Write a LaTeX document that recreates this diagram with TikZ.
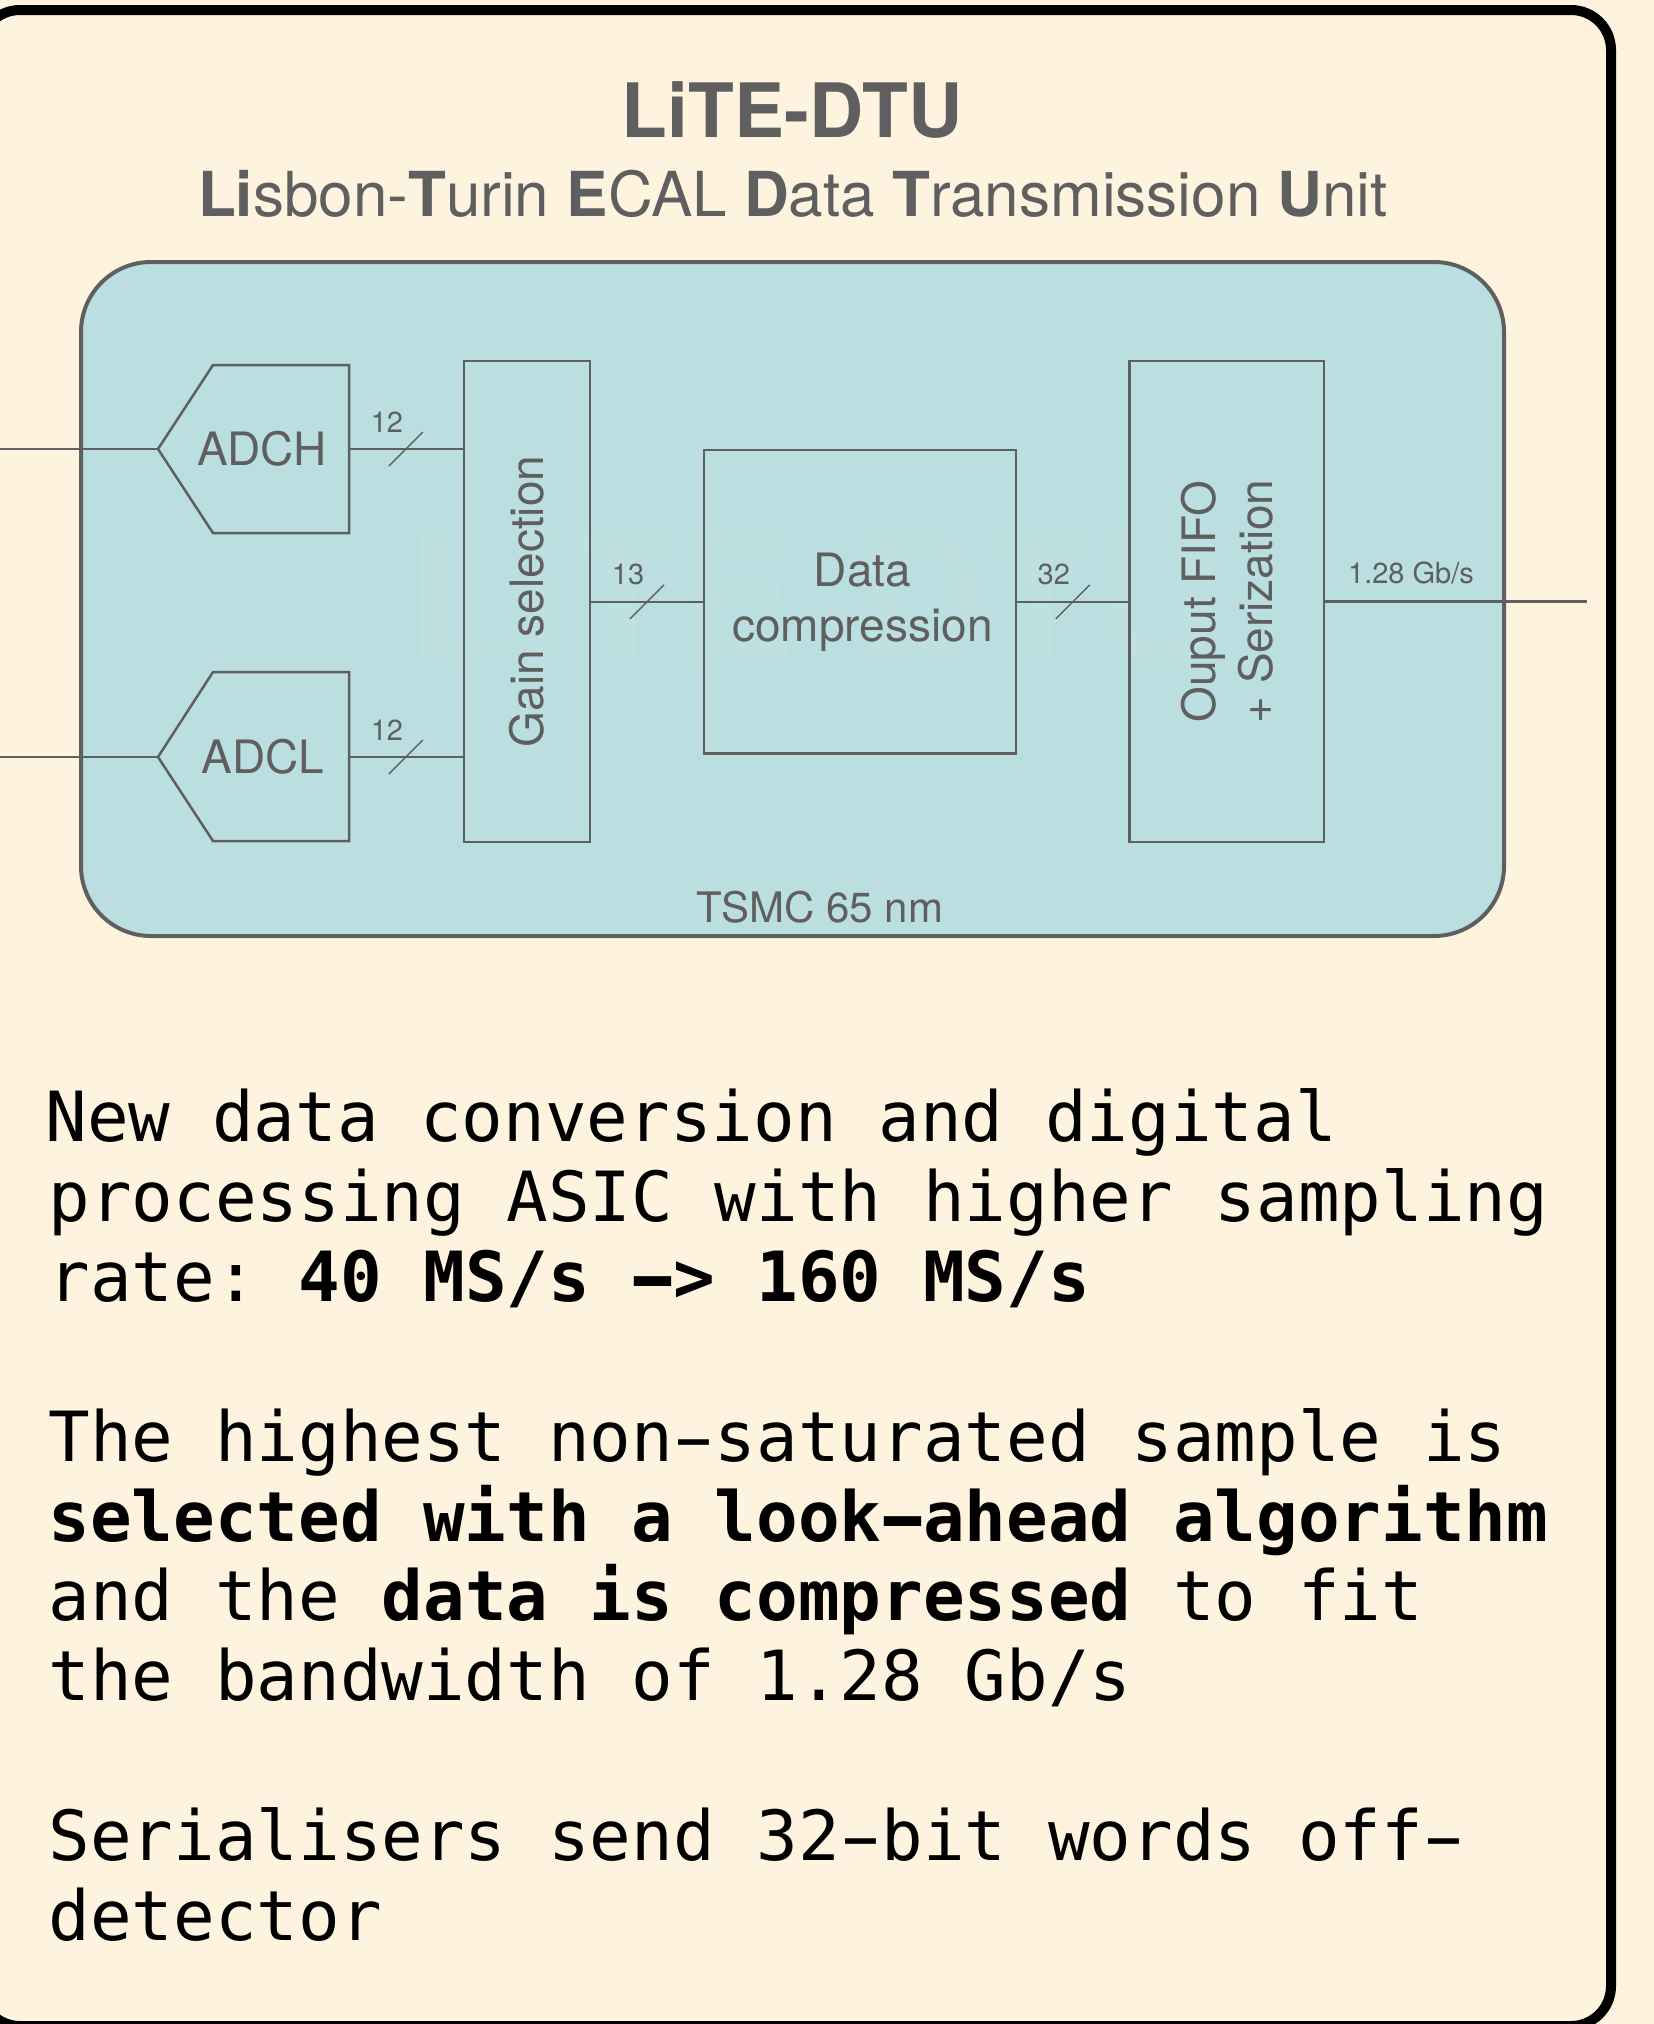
\documentclass[tikz,border=0pt]{standalone}
\usepackage{fontspec}
\usepackage{graphicx}
\setmainfont{TeX Gyre Heros}
\newfontfamily\codefont{DejaVu Sans Mono}
\usetikzlibrary{calc}
\definecolor{paper}{RGB}{253,243,222}
\definecolor{chipfill}{RGB}{187,223,224}
\definecolor{ink}{RGB}{95,95,95}
% a hyphen stretched to fill one monospace cell
\newcommand\cellhyphen{\makebox[0.602em]{\scalebox{1.75}[1]{-}}}
\begin{document}
\begin{tikzpicture}[x=0.5pt, y=-0.5pt,
  wire/.style={draw=ink, line width=1.25pt},
  blockbox/.style={draw=ink, line width=1.25pt, inner sep=0pt},
  blocktext/.style={text=ink, font=\fontsize{23}{27.5}\selectfont, align=center, inner sep=0pt},
  buswidth/.style={text=ink, font=\fontsize{14.5}{16}\selectfont, inner sep=0pt},
  busslash/.style={draw=ink, line width=0.7pt},
  bodyline/.style={anchor=base west, inner sep=0pt, font=\codefont\fontsize{34.6}{40}\selectfont\frenchspacing}
]
\useasboundingbox (0,0) rectangle (1654,2024);
\fill[paper] (0,0) rectangle (1654,2024);
% outer frame
\draw[line width=5pt, rounded corners=20pt, fill=paper] (-20,10) rectangle (1611,2026);

% heading
\node[anchor=base, text=ink, font=\bfseries\fontsize{37.5}{40}\selectfont, inner sep=0pt] (title) at (792,137) {LiTE-DTU};
\node[anchor=base, text=ink, font=\fontsize{31}{34}\selectfont, inner sep=0pt] (subtitle) at (793,216)
  {\textbf{Li}sbon-\textbf{T}urin \textbf{E}CAL \textbf{D}ata \textbf{T}ransmission \textbf{U}nit};

% chip outline
\node[draw=ink, line width=2pt, fill=chipfill, rounded corners=35pt,
      minimum width=711.5pt, minimum height=337pt, inner sep=0pt] (chip) at (792.5,599) {};
\node[anchor=base, text=white, text opacity=0.05, font=\bfseries\fontsize{90}{90}\selectfont, inner sep=0pt] (mark) at (815,663) {LiTE-DTU};
\node[anchor=base, text=ink, font=\fontsize{21}{24}\selectfont, inner sep=0pt] (tech) at (820,922) {TSMC 65 nm};

% ADCs
\coordinate (hTip) at (158,449);
\coordinate (hOut) at (349,449);
\draw[blockbox] (hTip) -- (213,365) -- (349,365) -- (349,533) -- (213,533) -- cycle;
\node[blocktext] (adch) at (262,449) {ADCH};

\coordinate (lTip) at (158,757);
\coordinate (lOut) at (349,757);
\draw[blockbox] (lTip) -- (213,672) -- (349,672) -- (349,841) -- (213,841) -- cycle;
\node[blocktext] (adcl) at (263,757) {ADCL};

% processing blocks
\node[blockbox, minimum width=63pt, minimum height=240.5pt] (gain) at (527,601.5) {};
\node[blocktext, rotate=90] (gaintext) at (gain.center) {Gain selection};

\node[blockbox, minimum width=156pt, minimum height=151.8pt] (comp) at (860,601.8) {};
\node[blocktext] (comptext) at ([xshift=1.2pt]comp.center) {Data\\compression};

\node[blockbox, minimum width=97.25pt, minimum height=240.5pt] (fifo) at (1226.75,601.5) {};
\node[blocktext, rotate=90, font=\fontsize{23}{28.5}\selectfont] (fifotext) at (fifo.center) {Ouput FIFO\\+ Serization};

% inputs and output
\coordinate (inH) at (0,449);
\coordinate (inL) at (0,757);
\coordinate (outEnd) at (1587,601.5);
\draw[wire] (inH) -- (hTip);
\draw[wire] (inL) -- (lTip);
\draw[wire] (fifo.east) -- (outEnd);
\node[buswidth] (rate) at (1411,573) {1.28 Gb/s};

% buses with width marks
\draw[wire] (hOut) -- coordinate[midway] (sH) (gain.west |- hOut);
\draw[wire] (lOut) -- coordinate[midway] (sL) (gain.west |- lOut);
\draw[wire] (gain.east |- comp.west) -- coordinate[midway] (sG) (comp.west);
\draw[wire] (comp.east) -- coordinate[midway] (sC) (fifo.west |- comp.east);

\foreach \s/\n/\lab in {sH/bH/12, sL/bL/12, sG/bG/13, sC/bC/32} {
  \draw[busslash] ([shift={(-17,17)}]\s) -- ([shift={(17,-17)}]\s);
  \node[buswidth] (\n) at ([shift={(-19,-27)}]\s) {\lab};
}

% description
\node[bodyline] (p1a) at (45,1141) {New data conversion and digital};
\node[bodyline] (p1b) at (48,1221) {processing ASIC with higher sampling};
\node[bodyline] (p1c) at (48,1301) {rate: \textbf{40 MS/s \cellhyphen> 160 MS/s}};
\node[bodyline] (p2a) at (48,1461) {The highest non\cellhyphen saturated sample is};
\node[bodyline] (p2b) at (48,1541) {\textbf{selected with a look\cellhyphen ahead algorithm}};
\node[bodyline] (p2c) at (48,1620) {and the \textbf{data is compressed} to fit};
\node[bodyline] (p2d) at (48,1700) {the bandwidth of 1.28 Gb/s};
\node[bodyline] (p3a) at (48,1860) {Serialisers send 32\cellhyphen bit words off\cellhyphen};
\node[bodyline] (p3b) at (48,1940) {detector};
\end{tikzpicture}
\end{document}
